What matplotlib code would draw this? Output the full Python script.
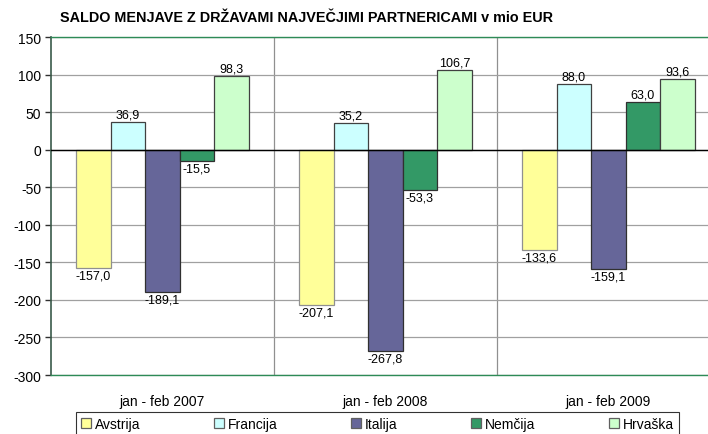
import matplotlib
matplotlib.use("Agg")
import matplotlib.pyplot as plt
import numpy as np

categories = ["jan - feb 2007", "jan - feb 2008", "jan - feb 2009"]
series_names = ["Avstrija", "Francija", "Italija", "Nemčija", "Hrvaška"]
avstrija = [-157.0, -207.1, -133.6]
francija = [36.9, 35.2, 88.0]
italija = [-189.1, -267.8, -159.1]
nemcija = [-15.5, -53.3, 63.0]
hrvaska = [98.3, 106.7, 93.6]
y_ticks = [-300, -250, -200, -150, -100, -50, 0, 50, 100, 150]
title = "SALDO MENJAVE Z DRŽAVAMI NAJVEČJIMI PARTNERICAMI v mio EUR"

series = [avstrija, francija, italija, nemcija, hrvaska]
colors = ["#FFFF99", "#CCFFFF", "#666699", "#339966", "#CCFFCC"]
edges = ["#909090", "#404040", "#303030", "#303030", "#404040"]

plt.rcParams["font.family"] = ["Liberation Sans", "DejaVu Sans"]

fig = plt.figure(figsize=(7.08, 4.35), dpi=100)
ax = fig.add_axes([51/708, 1-376/435, (720-51)/708, (376-38)/435])

x = np.arange(len(categories))
w = 0.1547
for i, (vals, c, ec, nm) in enumerate(zip(series, colors, edges, series_names)):
    pos = x + (i - 2) * w
    ax.bar(pos, vals, width=w, color=c, edgecolor=ec, linewidth=0.9, label=nm, zorder=3)
    for px, v in zip(pos, vals):
        lab = f"{v:.1f}".replace(".", ",")
        if v >= 0:
            ax.text(px, v + 2, lab, ha="center", va="bottom", fontsize=9, zorder=4)
        else:
            ax.text(px, v - 2, lab, ha="center", va="top", fontsize=9, zorder=4)

ax.set_xlim(-0.5, 2.5)
ax.set_ylim(-300, 150)
ax.set_yticks(y_ticks)
ax.set_yticklabels([str(t) for t in y_ticks], fontsize=10)
ax.yaxis.grid(True, color="#A0A0A0", linewidth=0.9, zorder=0)
for b in [0.5, 1.5]:
    ax.axvline(b, color="#909090", linewidth=0.9, zorder=0)
ax.axhline(0, color="black", linewidth=1.0, zorder=3.5)

ax.set_xticks(x)
ax.set_xticklabels(categories, fontsize=10)
ax.tick_params(axis="x", length=0, pad=14)
ax.tick_params(axis="y", length=4, width=1, color="#303030", pad=3)

for s in ["top", "bottom"]:
    ax.spines[s].set_color("#2E8B57")
    ax.spines[s].set_linewidth(1.0)
ax.spines["left"].set_color("#3A5A4A")
ax.spines["left"].set_linewidth(1.2)
ax.spines["right"].set_visible(False)

fig.text(60/708, 1-18/435, title, fontsize=10.4, fontweight="bold", va="center", ha="left")

leg = fig.legend(loc="upper center", bbox_to_anchor=(377.5/708, 1-413/435),
                 ncol=5, frameon=True, fancybox=False, edgecolor="black",
                 prop={"size": 10}, handlelength=0.7, handleheight=0.7,
                 handletextpad=0.3, borderpad=0.35, columnspacing=5.3, borderaxespad=0)
leg.get_frame().set_linewidth(0.8)
for h in leg.legend_handles:
    h.set_edgecolor("#606060")

fig.savefig("out.png", dpi=100)
